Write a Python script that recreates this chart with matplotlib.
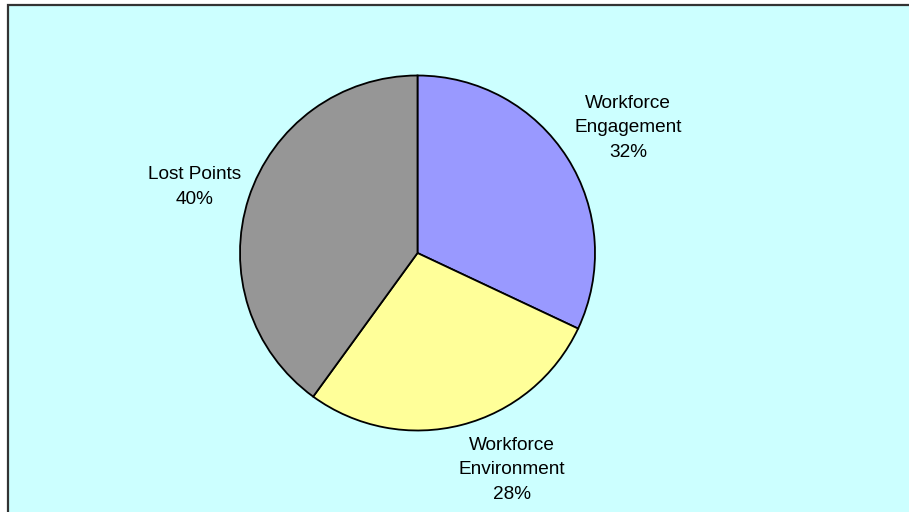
import matplotlib.pyplot as plt
from matplotlib.patches import Rectangle

plt.rcParams['font.family'] = ['Liberation Sans', 'DejaVu Sans']

categories = ["Workforce\nEngagement", "Workforce\nEnvironment", "Lost Points"]
shares = [32, 28, 40]
colors = ["#9999FF", "#FFFF99", "#969696"]

# label centres in pixel space (x, y from top)
label_pos = [(628, 128), (512, 470), (195, 187)]

W, H = 909, 512
fig = plt.figure(figsize=(W / 100, H / 100), dpi=100)
ax = fig.add_axes([0, 0, 1, 1])

# chart area with dark frame on top/left
ax.add_patch(Rectangle((7.5, -5), W, H, facecolor="#CCFFFF",
                       edgecolor="#333333", linewidth=1.6, zorder=0))

cx, cy, r = 417.5, H - 253, 177.5
wedges, _ = ax.pie(shares, colors=colors, startangle=90, counterclock=False,
                   center=(cx, cy), radius=r, frame=True,
                   wedgeprops=dict(edgecolor="black", linewidth=1.3))
ax.set_xlim(0, W)
ax.set_ylim(0, H)
ax.set_aspect('equal')
ax.axis('off')

for name, val, (lx, ly) in zip(categories, shares, label_pos):
    ax.text(lx, H - ly, f"{name}\n{val}%", ha="center", va="center",
            fontsize=13.7, linespacing=1.55, color="black")

fig.savefig("out.png", dpi=100)
